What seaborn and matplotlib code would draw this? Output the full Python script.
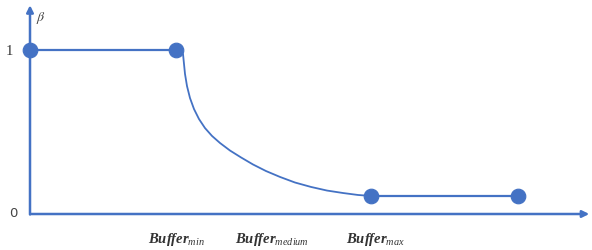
import numpy as np
import pandas as pd
import matplotlib
matplotlib.use('Agg')
import matplotlib.pyplot as plt
import seaborn as sns

# dane (x w jednostkach bufora, y = beta)
flat_hi_x = [0.0, 1.46]
flat_hi_y = [1.0, 1.0]
curve_x = [1.50, 1.53, 1.54, 1.55, 1.57, 1.60, 1.64, 1.69, 1.75, 1.82, 1.90, 2.00,
           2.11, 2.23, 2.36, 2.50, 2.65, 2.81, 2.97, 3.13, 3.28, 3.41]
curve_y = [1.0, 0.976, 0.915, 0.854, 0.780, 0.707, 0.640, 0.579, 0.524, 0.476, 0.433, 0.387,
           0.345, 0.302, 0.262, 0.226, 0.192, 0.165, 0.143, 0.128, 0.116, 0.110]
flat_lo_x = [3.41, 4.88]
flat_lo_y = [0.11, 0.11]
marker_x = [0.0, 1.46, 3.41, 4.88]
marker_y = [1.0, 1.0, 0.11, 0.11]
tick_pos = [1.46, 2.42, 3.45]
tick_labels = [r'$\mathit{Buffer}_{\mathsf{min}}$',
               r'$\mathit{Buffer}_{\mathsf{medium}}$',
               r'$\mathit{Buffer}_{\mathsf{max}}$']

blue = '#4472C4'

sns.set_style('white')
plt.rcParams['mathtext.fontset'] = 'custom'
plt.rcParams['mathtext.it'] = 'Liberation Serif:italic:bold'
plt.rcParams['mathtext.sf'] = 'Liberation Serif:italic'
plt.rcParams['mathtext.rm'] = 'Liberation Serif'

fig = plt.figure(figsize=(5.92, 2.51), dpi=100)
ax = fig.add_axes([0, 0, 1, 1])

sns.lineplot(x=flat_hi_x, y=flat_hi_y, ax=ax, color=blue, lw=1.6, sort=False)
sns.lineplot(x=curve_x, y=curve_y, ax=ax, color=blue, lw=1.3, sort=False)
sns.lineplot(x=flat_lo_x, y=flat_lo_y, ax=ax, color=blue, lw=1.6, sort=False)
sns.scatterplot(x=marker_x, y=marker_y, ax=ax, color=blue, s=110, marker='o',
                edgecolor=blue, zorder=5)

# osie ze strzalkami
ax.annotate('', xy=(5.62, 0), xytext=(-0.02, 0),
            arrowprops=dict(arrowstyle='-|>', color=blue, lw=1.8, mutation_scale=10))
ax.annotate('', xy=(0, 1.29), xytext=(0, -0.02),
            arrowprops=dict(arrowstyle='-|>', color=blue, lw=1.8, mutation_scale=10))

ax.text(0.11, 1.20, r'$\beta$', fontsize=10, color='#444444', ha='center', va='center',
        math_fontfamily='stix')
ax.text(-0.21, 1.0, '1', fontsize=10.5, family='Liberation Serif', color='#333333',
        ha='center', va='center')
ax.text(-0.17, 0.01, '0', fontsize=9.5, color='#444444', ha='center', va='center')
for p, lab in zip(tick_pos, tick_labels):
    ax.text(p, -0.15, lab, fontsize=10.5, color='#333333', ha='center', va='center')

ax.set_xlim(-0.30, 5.62)
ax.set_ylim(-0.2195, 1.311)
ax.axis('off')

fig.savefig('out.png', dpi=100)
